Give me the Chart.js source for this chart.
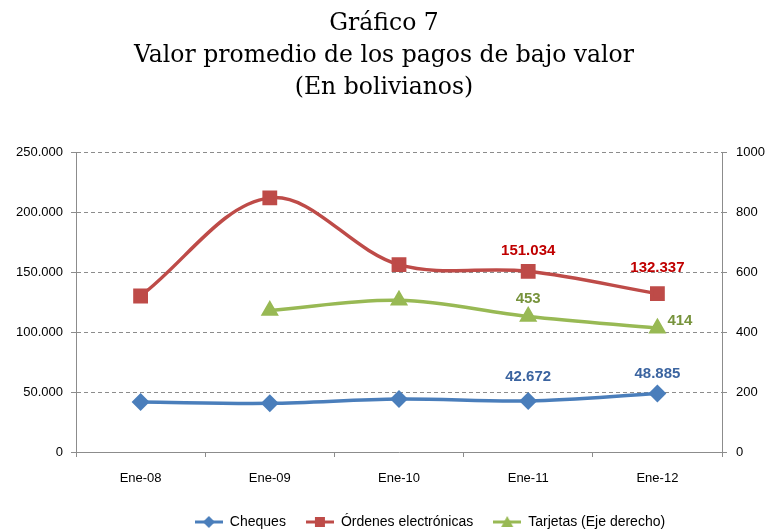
<!DOCTYPE html>
<html>
<head>
<meta charset="utf-8">
<script src="https://cdn.jsdelivr.net/npm/chart.js@4.4.1/dist/chart.umd.min.js"></script>
<style>
html,body{margin:0;padding:0;background:#fff;}
#wrap{width:768px;height:529px;position:relative;}
</style>
</head>
<body>
<div id="wrap"><canvas id="c" width="768" height="529"></canvas></div>
<script>
const categories = ['Ene-08','Ene-09','Ene-10','Ene-11','Ene-12'];
const cheques = [41800, 40700, 44300, 42672, 48885];
const ordenes = [130400, 212400, 156600, 151034, 132337];
const tarjetas = [null, 473, 507, 453, 414];
const leftTicks = [0, 50000, 100000, 150000, 200000, 250000];
const rightTicks = [0, 200, 400, 600, 800, 1000];
const titleLines = ['Gráfico 7', 'Valor promedio de los pagos de bajo valor', '(En bolivianos)'];
const seriesNames = ['Cheques', 'Órdenes electrónicas', 'Tarjetas (Eje derecho)'];
const labelledIdx = [3, 4];

const BLUE = '#4A7EBB', RED = '#BE4B48', GREEN = '#98B954';

function fmt(v){
  return Math.round(v).toString().replace(/\B(?=(\d{3})+(?!\d))/g, '.');
}

function legendIcon(color, shape){
  const c = document.createElement('canvas');
  c.width = 28; c.height = 14;
  const g = c.getContext('2d');
  g.strokeStyle = color; g.lineWidth = 3;
  g.beginPath(); g.moveTo(0,7); g.lineTo(28,7); g.stroke();
  g.fillStyle = color;
  g.beginPath();
  if (shape === 'diamond'){ g.moveTo(14,1); g.lineTo(20,7); g.lineTo(14,13); g.lineTo(8,7); }
  else if (shape === 'square'){ g.rect(9,2,10,10); }
  else { g.moveTo(14,1); g.lineTo(20,12); g.lineTo(8,12); }
  g.closePath(); g.fill();
  return c;
}
const icons = [legendIcon(BLUE,'diamond'), legendIcon(RED,'square'), legendIcon(GREEN,'triangle')];

const labelStyles = [
  {color:'#3B64A0', dy:[-24,-20], dx:[0,0], align:['center','center']},
  {color:'#C00000', dy:[-20,-26], dx:[0,0], align:['center','center']},
  {color:'#77933C', dy:[-18,-7], dx:[0,10], align:['center','left']}
];

const dataLabels = {
  id:'dataLabels',
  afterDatasetsDraw(chart){
    const ctx = chart.ctx;
    ctx.save();
    ctx.font = 'bold 15px "Liberation Sans", Arial, sans-serif';
    ctx.textBaseline = 'middle';
    chart.data.datasets.forEach((ds, di) => {
      const meta = chart.getDatasetMeta(di);
      const st = labelStyles[di];
      labelledIdx.forEach((idx, k) => {
        const p = meta.data[idx];
        const v = ds.data[idx];
        if (v == null) return;
        ctx.fillStyle = st.color;
        ctx.textAlign = st.align[k];
        ctx.fillText(fmt(v), p.x + st.dx[k], p.y + st.dy[k]);
      });
    });
    ctx.restore();
  }
};

const legendShift = {
  id:'legendShift',
  afterLayout(chart){
    const L = chart.legend;
    if (L){ L.left += 46; L.right += 46; }
  }
};

const gridColor = '#8C8C8C';
const tickFont = {family:'"Liberation Sans", Arial, sans-serif', size:13};

new Chart(document.getElementById('c'), {
  type:'line',
  data:{
    labels: categories,
    datasets:[
      {label:seriesNames[0], data:cheques, yAxisID:'y', borderColor:BLUE, backgroundColor:BLUE,
       borderWidth:3.5, pointStyle:'rectRot', pointRadius:6.5, pointHoverRadius:6.5, tension:0.35, fill:false},
      {label:seriesNames[1], data:ordenes, yAxisID:'y', borderColor:RED, backgroundColor:RED,
       borderWidth:3.5, pointStyle:'rect', pointRadius:8, pointHoverRadius:8, tension:0.35, fill:false},
      {label:seriesNames[2], data:tarjetas, yAxisID:'y1', borderColor:GREEN, backgroundColor:GREEN,
       borderWidth:3.5, pointStyle:'triangle', pointRadius:7, pointHoverRadius:7, tension:0.35, fill:false, spanGaps:false}
    ]
  },
  options:{
    responsive:false,
    animation:false,
    layout:{padding:{left:0,right:0,top:0,bottom:-10}},
    plugins:{
      tooltip:{enabled:false},
      title:{display:true, text:titleLines, color:'#000',
        font:{family:'"DejaVu Serif", "Liberation Serif", serif', size:23.5, weight:'normal', lineHeight:1.36},
        padding:{top:8,bottom:49}},
      legend:{position:'bottom', labels:{
        font:{family:'"Liberation Sans", Arial, sans-serif', size:14}, color:'#000',
        usePointStyle:true, pointStyleWidth:28, padding:20,
        generateLabels(chart){
          return chart.data.datasets.map((ds,i)=>({text:ds.label, pointStyle:icons[i], fillStyle:ds.borderColor,
            strokeStyle:ds.borderColor, lineWidth:0, datasetIndex:i, hidden:false}));
        }
      }}
    },
    scales:{
      x:{
        offset:true,
        grid:{display:true, offset:true, drawOnChartArea:false, drawTicks:true, tickLength:5, color:gridColor},
        border:{display:true, color:gridColor, width:1},
        ticks:{font:tickFont, color:'#000', padding:14, maxRotation:0},
        afterFit(s){ s.height = 43; }
      },
      y:{
        position:'left', min:0, max:250000,
        afterBuildTicks(s){ s.ticks = leftTicks.map(v=>({value:v})); },
        grid:{color:(c)=> c.tick && c.tick.value===0 ? 'rgba(0,0,0,0)' : gridColor, tickColor:gridColor, tickLength:5, lineWidth:1},
        border:{display:true, color:gridColor, dash:[4,3], width:1},
        ticks:{font:tickFont, color:'#000', padding:8, callback:(v)=>fmt(v)},
        afterFit(s){ s.width = 76; }
      },
      y1:{
        position:'right', min:0, max:1000,
        afterBuildTicks(s){ s.ticks = rightTicks.map(v=>({value:v})); },
        grid:{drawOnChartArea:false, color:gridColor, tickLength:5},
        border:{display:true, color:gridColor, width:1},
        ticks:{font:tickFont, color:'#000', padding:9, callback:(v)=>String(v)},
        afterFit(s){ s.width = 46; }
      }
    }
  },
  plugins:[dataLabels, legendShift]
});
</script>
</body>
</html>
